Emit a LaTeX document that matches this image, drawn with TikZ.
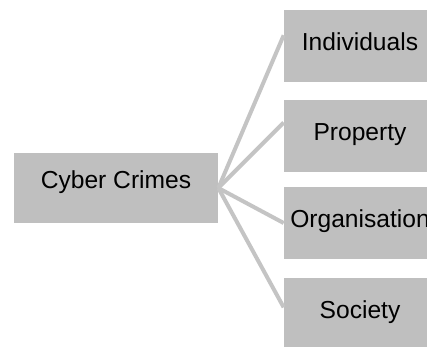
\documentclass[tikz,border=0pt]{standalone}
\usepackage{fontspec}
\setmainfont{Liberation Sans}
\definecolor{boxgray}{RGB}{191,191,191}
\definecolor{linkgray}{RGB}{196,196,196}

\begin{document}
\begin{tikzpicture}[x=0.02cm, y=-0.02cm,
    crimebox/.style={fill=boxgray, inner sep=0pt, anchor=base,
      font=\fontsize{14}{16}\selectfont, text=black},
    leafbox/.style={crimebox, minimum width=3.04cm, text height=0.8cm, text depth=0.64cm},
    link/.style={draw=linkgray, line width=0.08cm}]
          \useasboundingbox (0, 0) rectangle (427, 346);
          \node[crimebox, minimum width=4.08cm, text height=0.7cm, text depth=0.7cm] (cyber) at (116, 188) {Cyber Crimes};
          %
          \node[leafbox] (ind) at (360, 50) {Individuals};
          \node[leafbox] (prop) at (360, 140) {Property};
          \node[leafbox] (org) at (360, 227) {Organisation};
          \node[leafbox] (soc) at (360, 318) {Society};
          %
          \draw[link] (cyber.east) -- (ind.172);
          \draw[link] (cyber.east) -- (prop.170);
          \draw[link] (cyber.east) -- (org.west);
          \draw[link] (cyber.east) -- (soc.175);
        \end{tikzpicture}
\end{document}
